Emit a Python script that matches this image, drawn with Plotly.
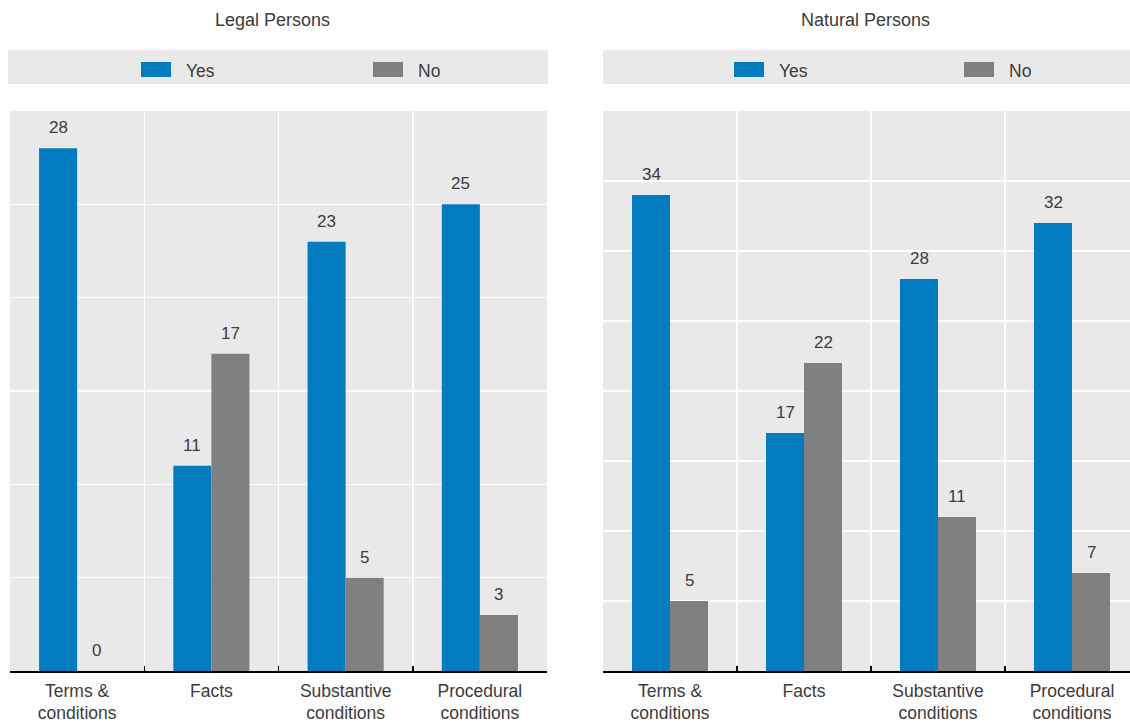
import plotly.graph_objects as go

categories = ["Terms &<br>conditions", "Facts", "Substantive<br>conditions", "Procedural<br>conditions"]
series_names = ["Yes", "No"]
legal_yes = [28, 11, 23, 25]
legal_no = [0, 17, 5, 3]
natural_yes = [34, 17, 28, 32]
natural_no = [5, 22, 11, 7]
panel_titles = ["Legal Persons", "Natural Persons"]

W, H = 1130, 723
BLUE = "#037bc1"
GREY = "#808080"
BG = "#e9e9e9"
TXT = "#3b3b3b"
FONT = "Liberation Sans, Arial, sans-serif"


def px(x):
    return x / W


def py(y):
    return 1 - y / H


fig = go.Figure()
fig.add_bar(x=categories, y=legal_yes, name="Yes", marker_color=BLUE, marker_line_width=0,
            xaxis="x", yaxis="y", showlegend=False, hoverinfo="skip")
fig.add_bar(x=categories, y=legal_no, name="No", marker_color=GREY, marker_line_width=0,
            xaxis="x", yaxis="y", showlegend=False, hoverinfo="skip")
fig.add_bar(x=categories, y=natural_yes, name="Yes", marker_color=BLUE, marker_line_width=0,
            xaxis="x2", yaxis="y2", showlegend=False, hoverinfo="skip")
fig.add_bar(x=categories, y=natural_no, name="No", marker_color=GREY, marker_line_width=0,
            xaxis="x2", yaxis="y2", showlegend=False, hoverinfo="skip")

annotations = []
BAR_HALF = 19
for xref, yref, ys, ns in [("x", "y", legal_yes, legal_no), ("x2", "y2", natural_yes, natural_no)]:
    for c, v in zip(categories, ys):
        annotations.append(dict(x=c, y=v, xref=xref, yref=yref, text=str(v), showarrow=False,
                                xshift=-BAR_HALF, yshift=9, yanchor="bottom",
                                font=dict(size=17, color=TXT, family=FONT)))
    for c, v in zip(categories, ns):
        annotations.append(dict(x=c, y=v, xref=xref, yref=yref, text=str(v), showarrow=False,
                                xshift=BAR_HALF, yshift=9, yanchor="bottom",
                                font=dict(size=17, color=TXT, family=FONT)))

# panel titles
for title, cx in zip(panel_titles, [272, 865]):
    annotations.append(dict(x=px(cx), y=py(20), xref="paper", yref="paper", text=title,
                            showarrow=False, xanchor="center", yanchor="middle",
                            font=dict(size=18, color=TXT, family=FONT)))

shapes = []
# legend boxes
for x0, x1 in [(8, 548), (603, W)]:
    shapes.append(dict(type="rect", xref="paper", yref="paper", x0=px(x0), x1=px(x1),
                       y0=py(84), y1=py(50), fillcolor=BG, line=dict(width=0), layer="below"))
# legend swatches & texts
for sx, color, label in [(141, BLUE, "Yes"), (373, GREY, "No"), (734, BLUE, "Yes"), (964, GREY, "No")]:
    shapes.append(dict(type="rect", xref="paper", yref="paper", x0=px(sx), x1=px(sx + 30),
                       y0=py(77), y1=py(62), fillcolor=color, line=dict(width=0)))
    annotations.append(dict(x=px(sx + 43), y=py(71), xref="paper", yref="paper", text=label,
                            showarrow=False, xanchor="left", yanchor="middle",
                            font=dict(size=17.5, color=TXT, family=FONT)))

xaxis_common = dict(type="category", tickson="boundaries", ticks="inside", ticklen=5,
                    tickcolor="black", tickwidth=1.5, showline=True, linecolor="black", linewidth=1.5,
                    showgrid=True, gridcolor="white", gridwidth=1.5, automargin=False,
                    ticklabelstandoff=3,
                    tickfont=dict(size=17.5, color=TXT, family=FONT), fixedrange=True)
yaxis_common = dict(showticklabels=False, showgrid=True, gridcolor="white", gridwidth=1.5,
                    zeroline=False, showline=False, ticks="", dtick=5, automargin=False,
                    domain=[py(671), py(111)], fixedrange=True)

fig.update_layout(
    width=W, height=H, autosize=False,
    margin=dict(l=0, r=0, t=0, b=0, pad=0),
    paper_bgcolor="white", plot_bgcolor=BG,
    barmode="group", bargap=0.433, bargroupgap=0,
    font=dict(family=FONT, color=TXT),
    xaxis=dict(domain=[px(10), px(547)], range=[-0.5, 3.5], anchor="y", **xaxis_common),
    yaxis=dict(range=[0, 30], anchor="x", **yaxis_common),
    xaxis2=dict(domain=[px(603), 1], range=[-0.5, 3.5 - 9 / 134], anchor="y2", **xaxis_common),
    yaxis2=dict(range=[0, 40], anchor="x2", **yaxis_common),
    shapes=shapes, annotations=annotations,
)

fig.write_html(
    "out.html",
    config={"displayModeBar": False, "staticPlot": True},
    post_script="document.body.style.margin='0';document.body.style.padding='0';"
                "document.documentElement.style.margin='0';document.body.style.overflow='hidden';",
)
